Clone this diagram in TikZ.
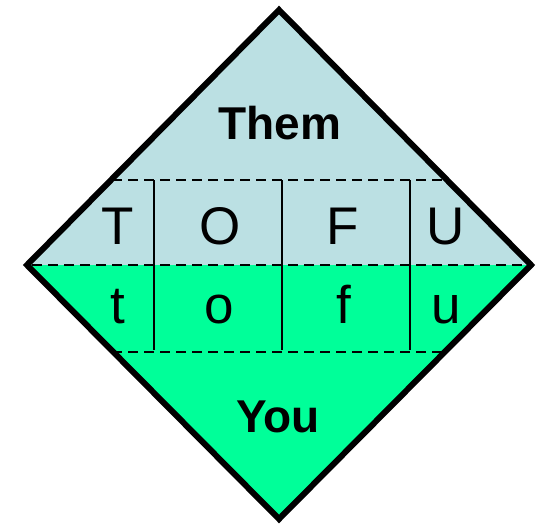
\documentclass[tikz,border=0pt]{standalone}
\usepackage{fontspec}
\setmainfont{Liberation Sans}
\definecolor{themblue}{RGB}{187,224,227}
\definecolor{yougreen}{RGB}{0,255,153}
\begin{document}
\begin{tikzpicture}[
    x=1pt, y=-1pt,
    letter/.style={anchor=base, inner sep=0pt, font=\fontsize{53}{60}\selectfont},
    side/.style={anchor=base, inner sep=0pt, font=\fontsize{46}{52}\selectfont\bfseries},
    grid/.style={dashed, line width=2pt, dash pattern=on 10pt off 6pt},
    divider/.style={line width=1.4pt}
]
    \useasboundingbox (0,0) rectangle (545,524);

    % Diamond corners
    \coordinate (top) at (279,10);
    \coordinate (right) at (531,265);
    \coordinate (bottom) at (279,519);
    \coordinate (left) at (27,265);

    % Halves
    \fill [themblue] (left) -- (top) -- (right) -- cycle;
    \fill [yougreen] (left) -- (bottom) -- (right) -- cycle;

    % Grid
    \begin{scope}
        \clip (left) -- (top) -- (right) -- (bottom) -- cycle;
        \draw [grid] (0,180) -- (545,180);
        \draw [grid] (0,265) -- (545,265);
        \draw [grid] (0,352) -- (545,352);
    \end{scope}
    \draw [divider] (154,180) -- (154,350);
    \draw [divider] (282,180) -- (282,350);
    \draw [divider] (410,180) -- (410,350);

    % Outline
    \draw [line width=6pt, miter limit=4] (left) -- (top) -- (right) -- (bottom) -- cycle;

    % Labels
    \node (them) [side] at (280,139) {Them};
    \node (you) [side] at (278,432) {You};

    \node (T) [letter] at (118,244) {T};
    \node (O) [letter] at (220,244) {O};
    \node (F) [letter] at (343,244) {F};
    \node (U) [letter] at (446,244) {U};

    \node (t) [letter] at (118,323) {t};
    \node (o) [letter] at (219,323) {o};
    \node (f) [letter] at (344,323) {f};
    \node (u) [letter] at (446,323) {u};

\end{tikzpicture}
\end{document}
